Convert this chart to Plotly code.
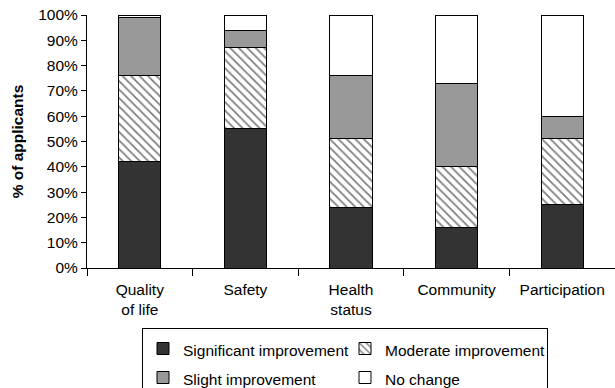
import plotly.graph_objects as go

categories = ["Quality<br>of life", "Safety", "Health<br>status", "Community", "Participation"]

significant = [42, 55, 24, 16, 25]
moderate = [34, 32, 27, 24, 26]
slight = [23, 7, 25, 33, 9]
no_change = [1, 6, 24, 27, 40]

series_names = ["Significant improvement", "Moderate improvement",
                "Slight improvement", "No change"]

FONT = "Liberation Sans, Arial, sans-serif"
TEXT_SIZE = 15.5
outline = dict(color="black", width=1)


def legend_label(name):
    # legend rows are spaced by the legend font size; the label itself is drawn smaller
    return f"<span style='font-size:{TEXT_SIZE}px'>{name}</span>"


fig = go.Figure()
fig.add_trace(go.Bar(
    x=categories, y=significant, name=legend_label(series_names[0]),
    marker=dict(color="#333333", line=outline),
))
fig.add_trace(go.Bar(
    x=categories, y=moderate, name=legend_label(series_names[1]),
    marker=dict(color="white", line=outline,
                pattern=dict(shape="\\", fgcolor="black", bgcolor="white",
                             size=6, solidity=0.3)),
))
fig.add_trace(go.Bar(
    x=categories, y=slight, name=legend_label(series_names[2]),
    marker=dict(color="#999999", line=outline),
))
fig.add_trace(go.Bar(
    x=categories, y=no_change, name=legend_label(series_names[3]),
    marker=dict(color="white", line=outline),
))

fig.update_layout(
    barmode="stack",
    bargap=0.6,
    width=615, height=388,
    margin=dict(l=87, r=0, t=15, b=120),
    paper_bgcolor="white",
    plot_bgcolor="white",
    font=dict(family=FONT, size=TEXT_SIZE, color="black"),
    legend=dict(
        orientation="h",
        xref="container", yref="container",
        x=142 / 615, y=1 - 328 / 388,
        xanchor="left", yanchor="top",
        entrywidth=157,
        bordercolor="black", borderwidth=1,
        font=dict(family=FONT, size=20, color="black"),
        traceorder="normal",
    ),
)

fig.update_xaxes(
    showline=True, linecolor="black", linewidth=1,
    ticks="outside", tickson="boundaries", ticklen=7, tickcolor="black",
    ticklabelstandoff=7,
    showgrid=False, range=[-0.5, 4.5],
)
fig.update_yaxes(
    range=[0, 100], dtick=10, ticksuffix="%",
    showline=True, linecolor="black", linewidth=1,
    ticks="outside", ticklen=5, tickcolor="black",
    showgrid=False, zeroline=False,
    title=dict(text="<b>% of applicants</b>", font=dict(size=TEXT_SIZE), standoff=10),
)

fig.write_html("out.html")
